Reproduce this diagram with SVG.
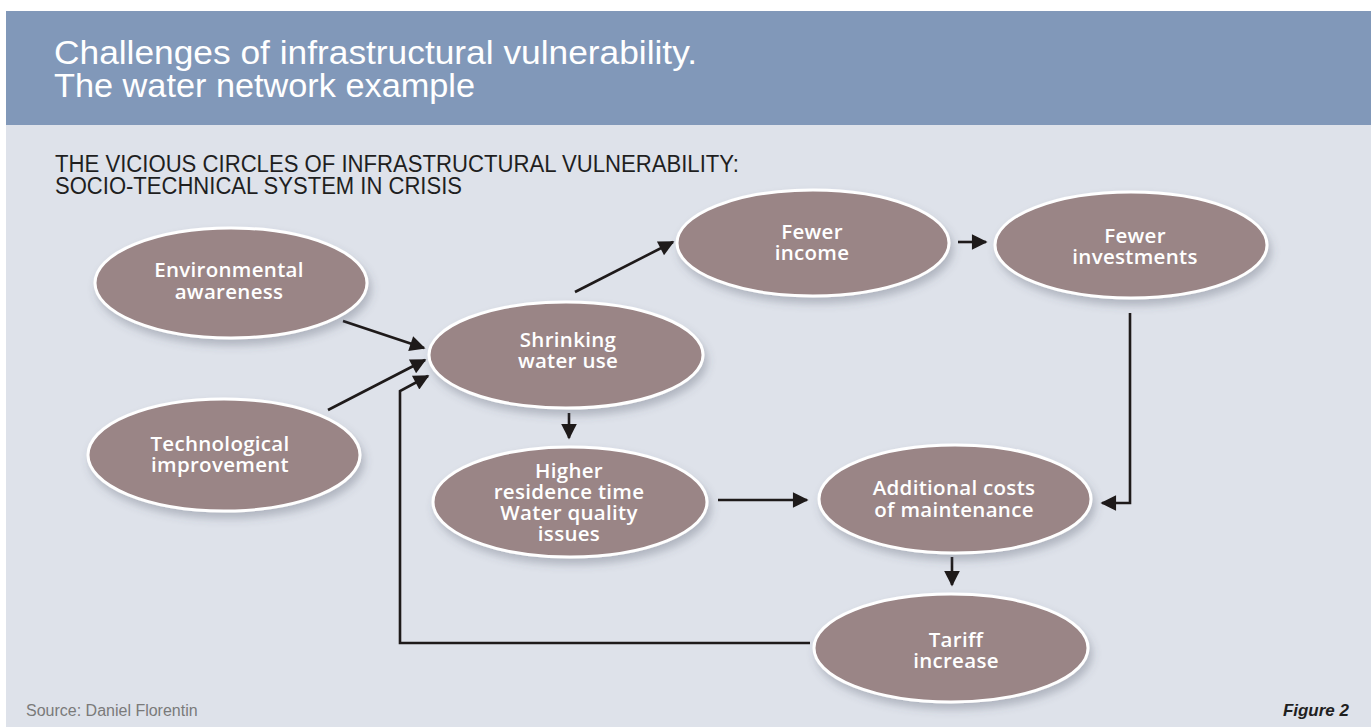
<svg xmlns="http://www.w3.org/2000/svg" width="1371" height="727" viewBox="0 0 1371 727">
<defs>
<filter id="sh" x="-20%" y="-20%" width="140%" height="150%">
<feDropShadow dx="3" dy="6" stdDeviation="4" flood-color="#4a5060" flood-opacity="0.3"/>
</filter>
<marker id="ah" viewBox="0 0 10 10" refX="9" refY="5" markerWidth="7" markerHeight="6" markerUnits="strokeWidth" orient="auto">
<path d="M0,0 L10,5 L0,10 z" fill="#1e1a1a"/>
</marker>
</defs>
<style>
.node ellipse{fill:#9a8586;stroke:#ffffff;stroke-width:3;filter:url(#sh)}
.node text{font-family:"Open Sans","Liberation Sans",sans-serif;font-size:20.5px;font-weight:600;fill:#ffffff;text-anchor:middle;letter-spacing:0.3px}
.conn path{fill:none;stroke:#1e1a1a;stroke-width:2.6;marker-end:url(#ah)}
.title{font-family:"Liberation Sans Narrow","Liberation Sans",sans-serif;font-size:33px;fill:#ffffff}
.sub{font-family:"Liberation Sans Narrow","Liberation Sans",sans-serif;font-size:23px;fill:#1f1f1f}
</style>
<rect x="0" y="0" width="1371" height="727" fill="#ffffff"/>
<rect x="6" y="125" width="1365" height="602" fill="#dee2ea"/>
<rect x="6" y="11" width="1365" height="114" fill="#8198b9"/>
<g id="header">
<text class="title" x="54" y="64" textLength="643" lengthAdjust="spacingAndGlyphs">Challenges of infrastructural vulnerability.</text>
<text class="title" x="54" y="97" textLength="421" lengthAdjust="spacingAndGlyphs">The water network example</text>
<text class="sub" x="55" y="172" textLength="684" lengthAdjust="spacingAndGlyphs">THE VICIOUS CIRCLES OF INFRASTRUCTURAL VULNERABILITY:</text>
<text class="sub" x="55" y="194" textLength="407" lengthAdjust="spacingAndGlyphs">SOCIO-TECHNICAL SYSTEM IN CRISIS</text>
</g>
<g id="connectors" class="conn">
<path d="M343,321 L424,348"/>
<path d="M328,410 L425,360"/>
<path d="M810,643 L400,643 L400,391 L428,376"/>
<path d="M575,292 L673,242"/>
<path d="M569,413 L569,438"/>
<path d="M718,500 L807,500"/>
<path d="M1130,313 L1130,503 L1102,503"/>
<path d="M952,557 L952,585"/>
<path d="M958,242 L986,242"/>
</g>
<g id="env" class="node">
<ellipse cx="231" cy="283" rx="136" ry="55"/>
<text x="229" y="277">Environmental</text>
<text x="229" y="299">awareness</text>
</g>
<g id="tech" class="node">
<ellipse cx="224" cy="455" rx="136" ry="56"/>
<text x="220" y="451">Technological</text>
<text x="220" y="472">improvement</text>
</g>
<g id="shrink" class="node">
<ellipse cx="566" cy="355" rx="137" ry="53"/>
<text x="568" y="347">Shrinking</text>
<text x="568" y="368">water use</text>
</g>
<g id="higher" class="node">
<ellipse cx="570" cy="502" rx="137" ry="55"/>
<text x="569" y="478">Higher</text>
<text x="569" y="499">residence time</text>
<text x="569" y="520">Water quality</text>
<text x="569" y="541">issues</text>
</g>
<g id="income" class="node">
<ellipse cx="813" cy="243" rx="136" ry="53"/>
<text x="812" y="239">Fewer</text>
<text x="812" y="260">income</text>
</g>
<g id="invest" class="node">
<ellipse cx="1131" cy="245" rx="136" ry="53"/>
<text x="1135" y="243">Fewer</text>
<text x="1135" y="264">investments</text>
</g>
<g id="costs" class="node">
<ellipse cx="955" cy="499" rx="136" ry="54"/>
<text x="954" y="495">Additional costs</text>
<text x="954" y="517">of maintenance</text>
</g>
<g id="tariff" class="node">
<ellipse cx="951" cy="648" rx="137" ry="54"/>
<text x="956" y="647">Tariff</text>
<text x="956" y="668">increase</text>
</g>
<g id="footer">
<text x="26" y="716" font-family="Liberation Sans Narrow, Liberation Sans, sans-serif" font-size="16" fill="#7a7a7a">Source: Daniel Florentin</text>
<text x="1349" y="716" text-anchor="end" font-family="Liberation Sans Narrow, Liberation Sans, sans-serif" font-size="17" font-style="italic" font-weight="bold" fill="#1f1f1f">Figure 2</text>
</g>
</svg>
